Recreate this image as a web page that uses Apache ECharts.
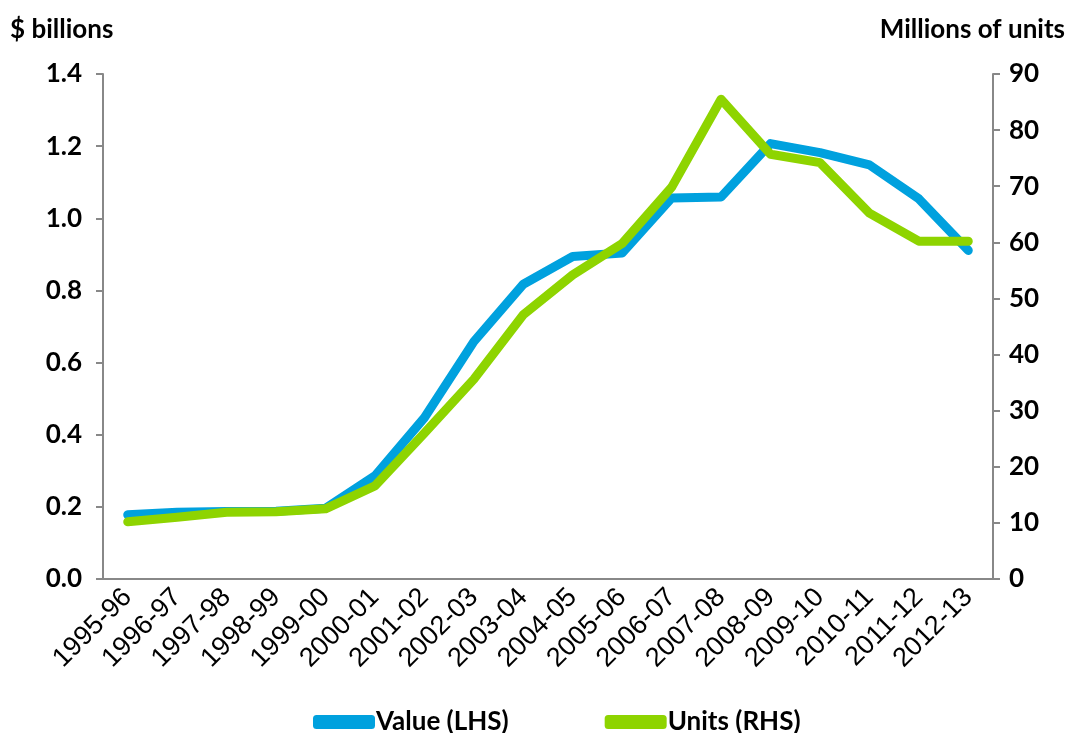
<!DOCTYPE html>
<html>
<head>
<meta charset="utf-8">
<script src="https://cdn.jsdelivr.net/npm/echarts@6/dist/echarts.min.js"></script>
<style>
  html, body { margin: 0; padding: 0; background: #fff; }
  #chart { width: 1067px; height: 733px; }
</style>
</head>
<body>
<div id="chart"></div>
<script>
const years = ['1995-96', '1996-97', '1997-98', '1998-99', '1999-00', '2000-01', '2001-02',
  '2002-03', '2003-04', '2004-05', '2005-06', '2006-07', '2007-08', '2008-09', '2009-10',
  '2010-11', '2011-12', '2012-13'];
// $ billions, left axis
const valueLHS = [0.178, 0.185, 0.187, 0.188, 0.196, 0.286, 0.447, 0.658, 0.817, 0.894,
  0.904, 1.056, 1.059, 1.207, 1.182, 1.148, 1.054, 0.911];
// millions of units, right axis
const unitsRHS = [10.2, 11.0, 11.9, 12.0, 12.5, 16.6, 26.0, 35.6, 47.1, 54.2,
  59.8, 69.8, 85.5, 75.7, 74.2, 65.2, 60.2, 60.2];

const chart = echarts.init(document.getElementById('chart'));

const axisGrey = '#888888';
const boldLabel = { color: '#000', fontFamily: 'Lato', fontWeight: 'bold', fontSize: 26 };

const seriesItem = {
  type: 'line',
  showSymbol: false,
  symbol: 'none',
  lineStyle: { width: 9, cap: 'round', join: 'round' }
};

chart.setOption({
  animation: false,
  title: [
    { text: '$ billions', left: 5, top: 12, textStyle: { ...boldLabel } },
    { text: 'Millions of units', right: -3, top: 12, textStyle: { ...boldLabel } }
  ],
  grid: { left: 103, right: 74, top: 74, bottom: 154 },
  legend: {
    left: 308,
    top: 704,
    itemWidth: 62,
    itemHeight: 14,
    itemGap: 96,
    icon: 'roundRect',
    textStyle: { ...boldLabel, padding: [0, 0, 0, -4] },
    data: ['Value (LHS)', 'Units (RHS)']
  },
  xAxis: {
    type: 'category',
    data: years,
    boundaryGap: true,
    axisLine: { lineStyle: { color: axisGrey, width: 2 } },
    axisTick: { length: 7, lineStyle: { color: axisGrey, width: 2 } },
    axisLabel: {
      rotate: 45,
      interval: 0,
      margin: 14,
      color: '#000',
      fontFamily: 'Liberation Sans',
      fontSize: 27
    }
  },
  yAxis: [
    {
      type: 'value',
      min: 0,
      max: 1.4,
      interval: 0.2,
      position: 'left',
      splitLine: { show: false },
      axisLine: { show: true, lineStyle: { color: axisGrey, width: 2 } },
      axisTick: { show: true, length: 7, lineStyle: { color: axisGrey, width: 2 } },
      axisLabel: { ...boldLabel, margin: 21, formatter: v => v.toFixed(1) }
    },
    {
      type: 'value',
      min: 0,
      max: 90,
      interval: 10,
      position: 'right',
      splitLine: { show: false },
      axisLine: { show: true, lineStyle: { color: axisGrey, width: 2 } },
      axisTick: { show: true, length: 7, lineStyle: { color: axisGrey, width: 2 } },
      axisLabel: { ...boldLabel, margin: 16 }
    }
  ],
  series: [
    {
      name: 'Value (LHS)',
      data: valueLHS,
      yAxisIndex: 0,
      ...seriesItem,
      itemStyle: { color: '#00A1DE' }
    },
    {
      name: 'Units (RHS)',
      data: unitsRHS,
      yAxisIndex: 1,
      ...seriesItem,
      itemStyle: { color: '#8ED400' }
    }
  ]
});
</script>
</body>
</html>
